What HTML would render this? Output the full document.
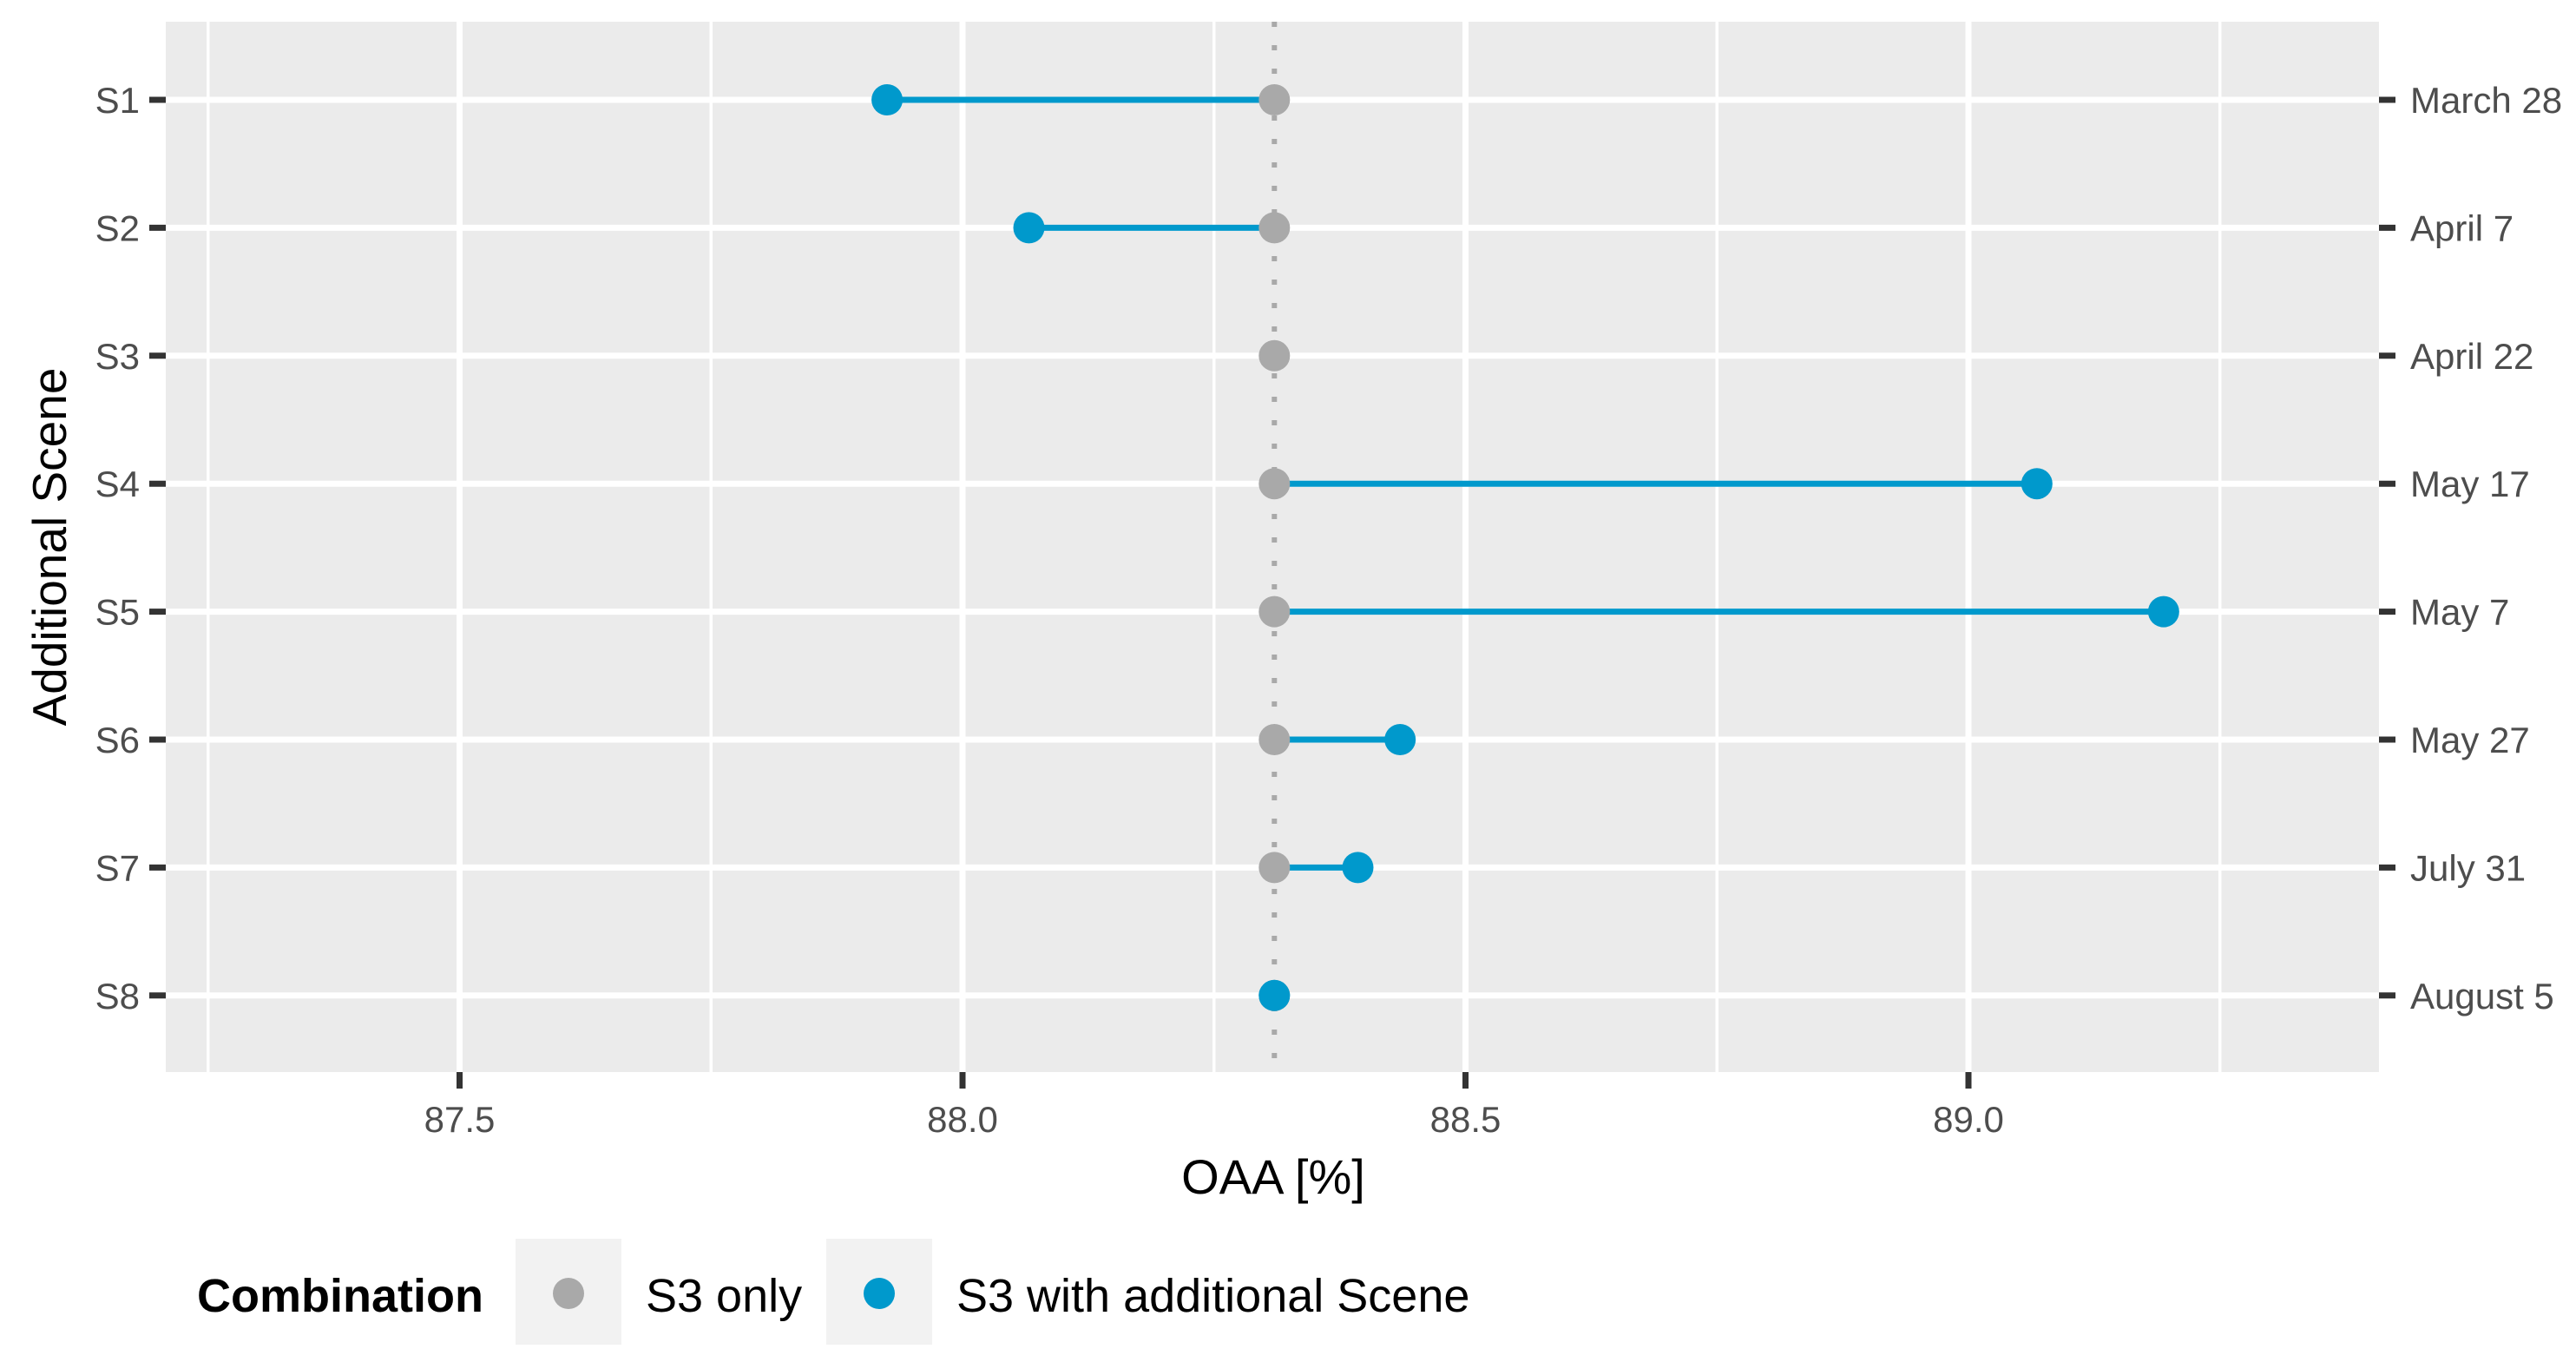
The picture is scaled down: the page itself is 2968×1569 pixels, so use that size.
<!DOCTYPE html>
<html><head><meta charset="utf-8"><style>
html,body{margin:0;padding:0;background:#fff;}
svg{display:block;font-family:"Liberation Sans",Arial,sans-serif;}
</style></head><body>
<svg id="chart" width="2968" height="1569" viewBox="0 0 2968 1569" xmlns="http://www.w3.org/2000/svg">
<rect x="191" y="25" width="2550" height="1210" fill="#ebebeb"/>
<g id="grid"></g>
<g id="axes"></g>
<g id="marks"></g>
<text x="1467" y="1375" font-size="56" text-anchor="middle" fill="#000">OAA [%]</text>
<text transform="translate(76,630) rotate(-90)" font-size="55" text-anchor="middle" fill="#000">Additional Scene</text>
<g>
<text x="227" y="1511" font-size="54" font-weight="bold" fill="#000">Combination</text>
<rect x="594" y="1427" width="122" height="122" fill="#f2f2f2"/>
<circle cx="655" cy="1490" r="18" fill="#a9a9a9"/>
<text x="744" y="1511" font-size="54" fill="#000">S3 only</text>
<rect x="952" y="1427" width="122" height="122" fill="#f2f2f2"/>
<circle cx="1013" cy="1490" r="18" fill="#0099cc"/>
<text x="1102" y="1511" font-size="54" fill="#000">S3 with additional Scene</text>
</g>
</svg>
<script>
const categories = ["S1","S2","S3","S4","S5","S6","S7","S8"];
const dates = ["March 28","April 7","April 22","May 17","May 7","May 27","July 31","August 5"];
const baseValues = [88.31,88.31,88.31,88.31,88.31,88.31,88.31,88.31];
const addValues = [87.925,88.066,null,89.068,89.194,88.435,88.393,88.31];
const refValue = 88.31;
const xTicks = [87.5,88.0,88.5,89.0];
const xTickLabels = ["87.5","88.0","88.5","89.0"];
const xMinor = [87.25,87.75,88.25,88.75,89.25];

const NS="http://www.w3.org/2000/svg";
const PX0=191,PX1=2741,PY0=25,PY1=1235;
function xs(v){return 1109+(v-88.0)*1159;}
function ys(i){return 115+i*147.4;}
function mk(tag,attrs,parent){const e=document.createElementNS(NS,tag);for(const k in attrs)e.setAttribute(k,attrs[k]);parent.appendChild(e);return e;}
const grid=document.getElementById('grid'),axes=document.getElementById('axes'),marks=document.getElementById('marks');

xMinor.forEach(v=>{
  const l=mk('line',{x1:xs(v),x2:xs(v),y1:PY0,y2:PY1,stroke:'#fff','stroke-width':3.5},grid);
  
  
});
xTicks.forEach((v,i)=>{
  const l=mk('line',{x1:xs(v),x2:xs(v),y1:PY0,y2:PY1,stroke:'#fff','stroke-width':7},grid);
  
  
  const t=mk('line',{x1:xs(v),x2:xs(v),y1:PY1,y2:PY1+19,stroke:'#333','stroke-width':7},axes);
  
  
  const tx=mk('text',{x:xs(v),y:1304,'font-size':42,'text-anchor':'middle',fill:'#4d4d4d'},axes);
  tx.textContent=xTickLabels[i];
  
  
});
categories.forEach((c,i)=>{
  const y=ys(i);
  const l=mk('line',{x1:PX0,x2:PX1,y1:y,y2:y,stroke:'#fff','stroke-width':7},grid);
  
  
  const t1=mk('line',{x1:PX0-19,x2:PX0,y1:y,y2:y,stroke:'#333','stroke-width':7},axes);
  
  
  const t2=mk('line',{x1:PX1,x2:PX1+19,y1:y,y2:y,stroke:'#333','stroke-width':7},axes);
  
  
  const a=mk('text',{x:161,y:y+15,'font-size':42,'text-anchor':'end',fill:'#4d4d4d'},axes);
  a.textContent=c;
  
  
  const b=mk('text',{x:2777,y:y+15,'font-size':42,fill:'#4d4d4d'},axes);
  b.textContent=dates[i];
  
  
});
const ref=mk('line',{x1:xs(refValue),x2:xs(refValue),y1:PY0,y2:PY1,stroke:'#a9a9a9','stroke-width':6,'stroke-dasharray':'6 21'},marks);


categories.forEach((c,i)=>{
  const y=ys(i),a=addValues[i],b=baseValues[i];
  if(a!==null){
    const l=mk('line',{x1:xs(b),x2:xs(a),y1:y,y2:y,stroke:'#0099cc','stroke-width':7},marks);
    
    
  }
});
categories.forEach((c,i)=>{
  const y=ys(i),a=addValues[i],b=baseValues[i];
  const g=mk('circle',{cx:xs(b),cy:y,r:18,fill:'#a9a9a9'},marks);
  
  
  if(a!==null && i!==2){
    const p=mk('circle',{cx:xs(a),cy:y,r:18,fill:'#0099cc'},marks);
    
    
  }
});
</script>
</body></html>
